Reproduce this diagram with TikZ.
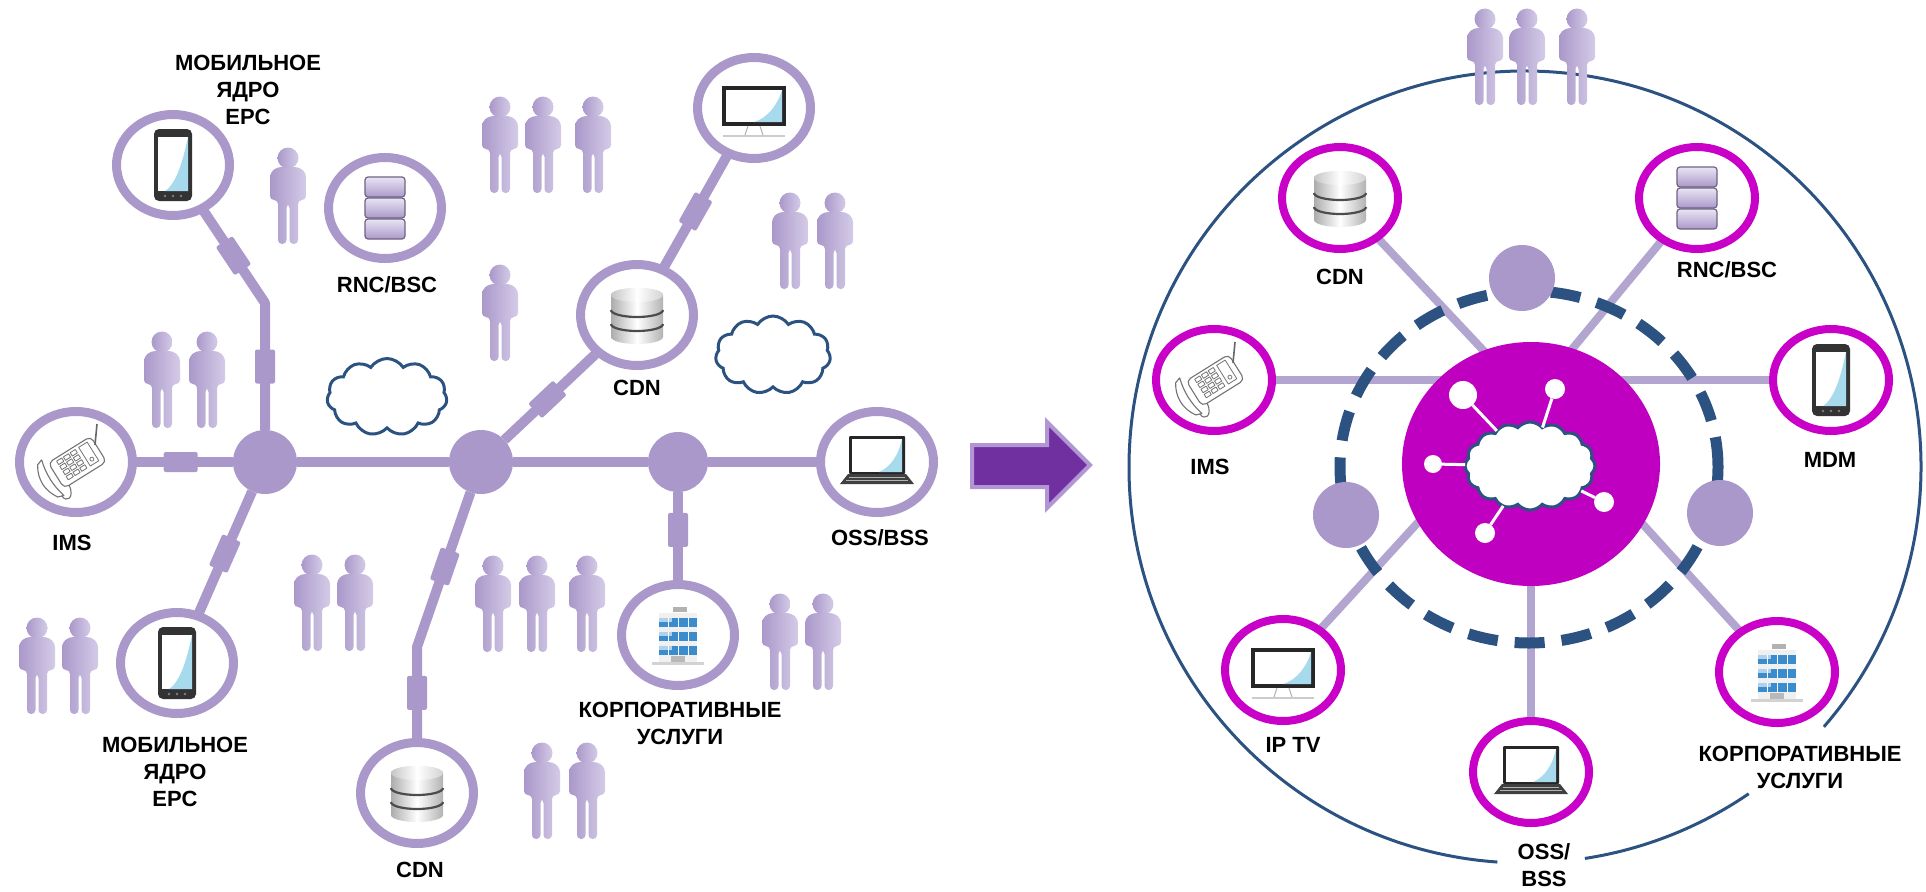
\documentclass[tikz,border=0pt]{standalone}
\usepackage{fontspec}
\setmainfont{Liberation Sans}
\usetikzlibrary{shapes.geometric,shapes.symbols,backgrounds}

\definecolor{lav}{RGB}{170,152,202}
\definecolor{lavlight}{RGB}{212,203,231}
\definecolor{spoke}{RGB}{178,165,208}
\definecolor{mag}{RGB}{192,0,192}
\definecolor{pinkring}{RGB}{200,0,200}
\definecolor{navy}{RGB}{44,82,130}
\definecolor{screenblue}{RGB}{168,218,238}
\definecolor{arrowfill}{RGB}{112,48,160}
\definecolor{arrowedge}{RGB}{178,150,212}
\definecolor{winblue}{RGB}{58,140,205}

\tikzset{
  every node/.style={outer sep=0pt, inner sep=0pt},
  lring/.style={ellipse, draw=lav, line width=9pt, fill=white, minimum width=113pt, minimum height=101pt},
  hub/.style={circle, fill=lav, minimum size=64pt},
  link/.style={draw=lav, line width=10pt},
  coupler/.style={rectangle, fill=lav, minimum width=34pt, minimum height=20pt, rounded corners=2pt, sloped},
  lbl/.style={font=\bfseries\fontsize{22}{27}\selectfont, align=center, text=black},
  pring/.style={ellipse, draw=pinkring, line width=8pt, fill=white, minimum width=116pt, minimum height=102pt},
  sat/.style={circle, fill=lav, minimum size=66pt},
  spokeline/.style={draw=spoke, line width=8pt},
  sky/.style={cloud, cloud puffs=11, cloud puff arc=115, cloud ignores aspect, draw=navy, line width=3pt, fill=white},
  dot/.style={circle, fill=white},
  % a standing person
  person/.pic={
    \shade[left color=lav, right color=lavlight, rounded corners=4pt]
      (-18,4) -- (-18,-23) -- (-11,-29) -- (11,-29) -- (18,-23) -- (18,4) -- (10,4)
      -- (10,48) -- (1.5,48) -- (1.5,8) -- (-1.5,8) -- (-1.5,48) -- (-10,48) -- (-10,4) -- cycle;
    \shade[left color=lav, right color=lavlight] (0,-38) circle[radius=10.5];
  },
  % smartphone
  mobile/.pic={
    \fill[black!80, rounded corners=5pt] (-19,-36) rectangle (19,36);
    \fill[white] (-15,-28) rectangle (15,26);
    \fill[screenblue] (-8,26) .. controls (4,18) and (10,-5) .. (15,-28) -- (15,26) -- cycle;
    \foreach \bx in {-8,0,8} \fill[gray] (\bx,31) circle[radius=1.3];
  },
  % desktop monitor
  monitor/.pic={
    \fill[black!85] (-32,-22) rectangle (32,18);
    \fill[white] (-28,-18) rectangle (28,14);
    \fill[screenblue] (0,14) .. controls (14,10) and (24,-4) .. (28,-18) -- (28,14) -- cycle;
    \draw[gray!60, line width=1pt] (-6,18) -- (-9,27) (6,18) -- (9,27);
    \draw[gray!40, line width=1.5pt] (-31,28) -- (31,28);
  },
  % laptop
  laptop/.pic={
    \fill[black!85, rounded corners=1pt] (-28,-26) rectangle (28,12);
    \fill[white] (-25,-23) rectangle (25,10);
    \fill[screenblue] (2,10) .. controls (14,5) and (22,-8) .. (25,-23) -- (25,10) -- cycle;
    \fill[black!75] (-29,12) -- (29,12) -- (37,22) -- (-37,22) -- cycle;
    \draw[gray!60, line width=0.8pt] (-28,15) -- (28,15) (-31,18.5) -- (31,18.5);
  },
  % database cylinder
  db/.pic={
    \shade[left color=gray!65, right color=gray!60, middle color=white]
      (-26,-20) -- (-26,22) arc[start angle=180, end angle=0, x radius=26, y radius=7]
      -- (26,-20) arc[start angle=0, end angle=-180, x radius=26, y radius=7] -- cycle;
    \shade[left color=gray!45, right color=gray!35, middle color=white] (0,-20) ellipse [x radius=26, y radius=7];
    \draw[black!70, line width=2.2pt] (-26,-5) arc[start angle=180, end angle=0, x radius=26, y radius=7];
    \draw[black!70, line width=2.2pt] (-26,9) arc[start angle=180, end angle=0, x radius=26, y radius=7];
  },
  % three stacked blocks
  stack/.pic={
    \foreach \sy in {-31,-10,11}
      \shadedraw[top color=lavlight!50!white, bottom color=lav, draw=lav!65!black, line width=1.2pt, rounded corners=3pt]
        (-20,\sy) rectangle (20,\sy+20);
  },
  % office building
  building/.pic={
    \fill[gray!35] (-26,27) rectangle (26,30);
    \fill[gray!12] (-19,-22) rectangle (19,27);
    \foreach \wy in {-17,-3,11}{
      \fill[winblue] (-19,\wy) rectangle (19,\wy+9);
      \fill[winblue!40!white] (-19,\wy) rectangle (-6,\wy+4);
      \draw[white, line width=0.8pt] (-10,\wy) -- (-10,\wy+9) (0,\wy) -- (0,\wy+9) (10,\wy) -- (10,\wy+9);
    }
    \fill[gray!60] (-5,-28) rectangle (9,-23);
    \fill[gray!55] (-7,21) rectangle (7,27);
  },
  % desk telephone, line drawing
  deskphone/.pic={
    \begin{scope}[rotate=32, line width=1.1pt, line join=round]
      \draw[black!55, fill=white, rounded corners=5pt] (-24,-14) rectangle (26,16);
      \draw[black!55, fill=white] (-34,-18) .. controls (-42,-6) and (-42,8) .. (-34,20)
        -- (-28,22) .. controls (-32,8) and (-32,-6) .. (-28,-20) -- cycle;
      \foreach \ki in {0,1,2}
        \foreach \kj in {0,1,2,3}
          \draw[black!55, line width=0.8pt] (-16+\ki*8,-11+\kj*6) rectangle ++(6,4);
      \draw[black!55, line width=0.8pt] (10,-11) rectangle (20,11);
      \draw[black!55, line width=0.8pt] (15,6) circle[radius=2];
      \draw[black!55] (-30,21) .. controls (-30,30) and (-20,30) .. (-18,16);
    \end{scope}
    \draw[black!60, line width=1.6pt] (19,-17) -- (21,-38);
  },
}

\begin{document}
\begin{tikzpicture}[x=1pt, y=-1pt]
\useasboundingbox (0,0) rectangle (1926,891);

% ---------------- left: tree network ----------------
\node[hub] (h1) at (265,462) {};
\node[hub] (h2) at (481,462) {};
\node[hub, minimum size=60pt] (h3) at (678,462) {};

\node[lring] (ims)  at (76,462) {};
\node[lring] (mtop) at (173,165) {};
\node[lring] (rnc)  at (385,208) {};
\node[lring] (mon)  at (754,108) {};
\node[lring] (cdnA) at (637,315) {};
\node[lring] (oss)  at (877,462) {};
\node[lring] (corp) at (678,635) {};
\node[lring] (cdnB) at (417,793) {};
\node[lring] (mbot) at (177,663) {};
\coordinate (b1) at (265,303);
\coordinate (b2) at (417,647);

\begin{scope}[on background layer]
  \draw[link] (ims) -- node[coupler, pos=0.48] {} (h1);
  \draw[link] (h1) -- (h2);
  \draw[link] (h2) -- (h3);
  \draw[link] (h3) -- (oss);
  \draw[link, line join=round] (mtop) -- node[coupler] {} (b1) -- node[coupler] {} (h1);
  \draw[link] (h1) -- node[coupler] {} (mbot);
  \draw[link] (h2) -- node[coupler, pos=0.46] {} (cdnA);
  \draw[link] (cdnA) -- node[coupler] {} (mon);
  \draw[link, line join=round] (h2) -- node[coupler, pos=0.48] {} (b2) -- node[coupler, pos=0.48] {} (cdnB);
  \draw[link] (h3) -- node[coupler, pos=0.41] {} (corp);
\end{scope}

\pic at (ims) {deskphone};
\pic at (mtop) {mobile};
\pic at (mbot) {mobile};
\pic at (rnc) {stack};
\pic at (mon) {monitor};
\pic at (cdnA) {db};
\pic at (cdnB) {db};
\pic at (oss) {laptop};
\pic at (corp) {building};

\node[sky, minimum width=120pt, minimum height=77pt] (cl1) at (387,397) {};
\node[sky, minimum width=115pt, minimum height=78pt] (cl2) at (773,355) {};

\node[lbl] (tmtop) at (248,90) {МОБИЛЬНОЕ\\ЯДРО\\EPC};
\node[lbl] (trnc)  at (387,285) {RNC/BSC};
\node[lbl] (tims)  at (72,543) {IMS};
\node[lbl] (tcdnA) at (637,388) {CDN};
\node[lbl] (toss)  at (880,538) {OSS/BSS};
\node[lbl] (tcorp) at (680,723) {КОРПОРАТИВНЫЕ\\УСЛУГИ};
\node[lbl] (tmbot) at (175,772) {МОБИЛЬНОЕ\\ЯДРО\\EPC};
\node[lbl] (tcdnB) at (420,870) {CDN};

\foreach \px/\py in {288/196, 162/380, 207/380, 500/145, 543/145, 593/145, 500/313,
                     790/241, 835/241, 37/666, 80/666, 312/603, 355/603,
                     493/604, 537/604, 587/604, 780/642, 823/642, 542/791, 587/791}
  \pic at (\px,\py) {person};

% ---------------- transition arrow ----------------
\filldraw[fill=arrowfill, draw=arrowedge, line width=4pt, line join=miter]
  (972,445) -- (1047,445) -- (1047,422) -- (1090,465) -- (1047,508) -- (1047,487) -- (972,487) -- cycle;

% ---------------- right: ring network ----------------
\coordinate (oc) at (1525,467);
\draw[navy, line width=3pt] (oc) ++(94:396) arc[start angle=94, end angle=401, radius=396];
\draw[navy, line width=3pt] (oc) ++(55.6:396) arc[start angle=55.6, end angle=81.3, radius=396];

\node[pring] (cdnR)  at (1340,198) {};
\node[pring] (rncR)  at (1697,198) {};
\node[pring] (imsR)  at (1214,380) {};
\node[pring] (mdmR)  at (1831,380) {};
\node[pring] (iptvR) at (1283,670) {};
\node[pring] (ossR)  at (1531,772) {};
\node[pring] (corpR) at (1777,672) {};
\node[ellipse, fill=mag, minimum width=258pt, minimum height=244pt] (core) at (1531,464) {};
\coordinate (meet) at (1530,400);

\begin{scope}[on background layer]
  \draw[spokeline] (cdnR) -- (meet);
  \draw[spokeline] (rncR) -- (meet);
  \draw[spokeline] (iptvR) -- (meet);
  \draw[spokeline] (corpR) -- (meet);
  \draw[spokeline] (imsR) -- (mdmR);
  \draw[spokeline] (ossR) -- (core);
\end{scope}

\node[ellipse, draw=navy, line width=11pt, dash pattern=on 30pt off 17pt,
      minimum width=378pt, minimum height=352pt] (ring) at (1529,467) {};
\node[sat] (satT) at (1522,278) {};
\node[sat] (satL) at (1346,515) {};
\node[sat] (satR) at (1720,513) {};

\node[sky, minimum width=130pt, minimum height=88pt, cloud puffs=16, cloud puff arc=100] (cc) at (1530,466) {};
\node[dot, minimum size=28pt] (d1) at (1463,395) {};
\node[dot, minimum size=20pt] (d2) at (1555,389) {};
\node[dot, minimum size=18pt] (d3) at (1433,464) {};
\node[dot, minimum size=20pt] (d4) at (1604,502) {};
\node[dot, minimum size=20pt] (d5) at (1485,533) {};
\foreach \d in {d1,d2,d3,d4,d5}
  \draw[white, line width=3pt] (\d) -- (cc);

\pic at (cdnR) {db};
\pic at (rncR) {stack};
\pic at (imsR) {deskphone};
\pic at (mdmR) {mobile};
\pic at (iptvR) {monitor};
\pic at (ossR) {laptop};
\pic at (corpR) {building};

\node[lbl] (tcdnR)  at (1340,277) {CDN};
\node[lbl] (trncR)  at (1727,270) {RNC/BSC};
\node[lbl] (timsR)  at (1210,467) {IMS};
\node[lbl] (tmdmR)  at (1830,460) {MDM};
\node[lbl] (tiptvR) at (1293,745) {IP TV};
\node[lbl] (tossR)  at (1544,865) {OSS/\\BSS};
\node[lbl] (tcorpR) at (1800,767) {КОРПОРАТИВНЫЕ\\УСЛУГИ};

\foreach \px in {1485,1527,1577}
  \pic at (\px,57) {person};
\end{tikzpicture}
\end{document}
